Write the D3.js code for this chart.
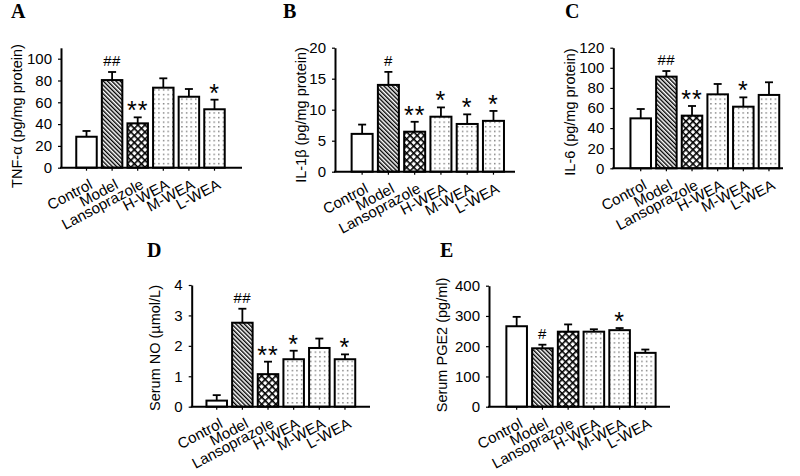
<!DOCTYPE html>
<html><head><meta charset="utf-8">
<script src="https://cdn.jsdelivr.net/npm/d3@7"></script>
<style>
html,body{margin:0;padding:0;background:#fff;}
svg{display:block;}
text{font-family:"Liberation Sans",Arial,sans-serif;fill:#000;}
</style></head>
<body>
<svg id="chart" width="800" height="476"></svg>
<script>
const categories = ["Control","Model","Lansoprazole","H-WEA","M-WEA","L-WEA"];
const fills = ["none","hatch","cross","dots","dots","dots"];

const tnfMean = [28.4, 80.4, 40.7, 73.4, 65.1, 53.6];
const tnfErr  = [5.3, 7.4, 5.5, 8.6, 7.1, 8.8];
const tnfSig  = ["", "##", "**", "", "", "*"];
const tnfTicks = [0,20,40,60,80,100];

const il1bMean = [6.1, 14.0, 6.45, 8.87, 7.7, 8.2];
const il1bErr  = [1.5, 2.1, 1.6, 1.5, 1.55, 1.6];
const il1bSig  = ["", "#", "**", "*", "*", "*"];
const il1bTicks = [0,5,10,15,20];

const il6Mean = [49.7, 91.2, 52.4, 73.6, 61.3, 73];
const il6Err  = [9.3, 5.6, 9.6, 10.3, 9.3, 12.6];
const il6Sig  = ["", "##", "**", "", "*", ""];
const il6Ticks = [0,20,40,60,80,100,120];

const noMean = [0.2, 2.76, 1.07, 1.56, 1.93, 1.56];
const noErr  = [0.18, 0.46, 0.41, 0.28, 0.31, 0.16];
const noSig  = ["", "##", "**", "*", "", "*"];
const noTicks = [0,1,2,3,4];

const pgeMean = [266, 193, 248, 248, 253, 178];
const pgeErr  = [31, 12, 24, 8, 7, 11];
const pgeSig  = ["", "#", "", "", "*", ""];
const pgeTicks = [0,100,200,300,400];

const svg = d3.select("#chart");
const defs = svg.append("defs");

const ph = defs.append("pattern").attr("id","hatch").attr("patternUnits","userSpaceOnUse")
  .attr("width",3).attr("height",3).attr("patternTransform","rotate(-45)");
ph.append("rect").attr("width",3).attr("height",3).attr("fill","#fff");
ph.append("rect").attr("x",0).attr("y",0).attr("width",1.4).attr("height",3).attr("fill","#000");

const pc = defs.append("pattern").attr("id","cross").attr("patternUnits","userSpaceOnUse")
  .attr("width",5).attr("height",5).attr("patternTransform","rotate(45)");
pc.append("rect").attr("width",5).attr("height",5).attr("fill","#fff");
pc.append("rect").attr("x",0).attr("y",0).attr("width",1.6).attr("height",5).attr("fill","#000");
pc.append("rect").attr("x",0).attr("y",0).attr("width",5).attr("height",1.6).attr("fill","#000");

const pd = defs.append("pattern").attr("id","dots").attr("patternUnits","userSpaceOnUse")
  .attr("width",4.6).attr("height",4.6);
pd.append("rect").attr("width",4.6).attr("height",4.6).attr("fill","#fff");
pd.append("rect").attr("x",2).attr("y",2).attr("width",1.2).attr("height",1.2).attr("fill","#444");

const panels = [
  {letter:"A", lx:11, ly:18, ax:61, y0:167.7, yTop:47.8, max:110, ticks:tnfTicks, r:[73.7,227.3], xEnd:242,
   mean:tnfMean, err:tnfErr, sig:tnfSig, title:"TNF-α (pg/mg protein)", tx:22, ty:116},
  {letter:"B", lx:283, ly:18, ax:335, y0:171.7, yTop:47.7, max:20, ticks:il1bTicks, r:[349,506.6], xEnd:515,
   mean:il1bMean, err:il1bErr, sig:il1bSig, title:"IL-1β (pg/mg protein)", tx:306, ty:115},
  {letter:"C", lx:565, ly:18, ax:613.3, y0:168.3, yTop:47.7, max:120, ticks:il6Ticks, r:[627.9,781.8], xEnd:783,
   mean:il6Mean, err:il6Err, sig:il6Sig, title:"IL-6 (pg/mg protein)", tx:575, ty:112},
  {letter:"D", lx:147, ly:257, ax:191.7, y0:406.7, yTop:285, max:4, ticks:noTicks, r:[203.9,357.8], xEnd:370,
   mean:noMean, err:noErr, sig:noSig, title:"Serum NO (µmol/L)", tx:160, ty:348},
  {letter:"E", lx:440, ly:257, ax:489, y0:406.7, yTop:285.7, max:400, ticks:pgeTicks, r:[503.8,658.2], xEnd:670,
   mean:pgeMean, err:pgeErr, sig:pgeSig, title:"Serum PGE2 (pg/ml)", tx:447, ty:345}
];

panels.forEach(p => {
  const g = svg.append("g");
  const y = d3.scaleLinear().domain([0, p.max]).range([p.y0, p.yTop]);
  const x = d3.scaleBand().domain(categories).range(p.r).paddingInner(0.2).paddingOuter(0.1);

  g.append("text").attr("x", p.lx).attr("y", p.ly).text(p.letter)
    .style("font-family","'Liberation Serif','Times New Roman',serif").style("font-weight","bold").style("font-size","20px");

  g.append("text").attr("transform", `translate(${p.tx},${p.ty}) rotate(-90)`)
    .attr("text-anchor","middle").style("font-size","14.5px").text(p.title);

  const data = categories.map((c,i) => ({c, m:p.mean[i], e:p.err[i], s:p.sig[i], f:fills[i]}));
  g.selectAll("rect.bar").data(data).enter().append("rect").attr("class","bar")
    .attr("x", d => x(d.c)).attr("width", x.bandwidth())
    .attr("y", d => y(d.m)).attr("height", d => p.y0 - y(d.m))
    .attr("fill", d => d.f === "none" ? "#fff" : `url(#${d.f})`)
    .attr("stroke","#000").attr("stroke-width",2);

  const eb = g.selectAll("g.eb").data(data).enter().append("g").attr("class","eb");
  eb.append("line").attr("x1", d => x(d.c)+x.bandwidth()/2).attr("x2", d => x(d.c)+x.bandwidth()/2)
    .attr("y1", d => y(d.m)).attr("y2", d => y(d.m+d.e)).attr("stroke","#000").attr("stroke-width",1.8);
  eb.append("line").attr("x1", d => x(d.c)+x.bandwidth()/2-4).attr("x2", d => x(d.c)+x.bandwidth()/2+4)
    .attr("y1", d => y(d.m+d.e)).attr("y2", d => y(d.m+d.e)).attr("stroke","#000").attr("stroke-width",1.8);

  g.selectAll("text.sig").data(data.filter(d => d.s)).enter().append("text").attr("class","sig")
    .attr("x", d => x(d.c)+x.bandwidth()/2)
    .attr("y", d => d.s.startsWith("#") ? y(d.m+d.e)-6 : y(d.m+d.e)+2)
    .attr("text-anchor","middle")
    .style("font-size", d => d.s.startsWith("#") ? "15px" : "25px")
    .style("letter-spacing", d => d.s.startsWith("#") ? "0.5px" : "1px")
    .text(d => d.s);

  const ya = g.append("g").attr("transform", `translate(${p.ax},0)`)
    .call(d3.axisLeft(y).tickValues(p.ticks).tickFormat(d3.format("d")).tickSize(3).tickSizeOuter(0).tickPadding(6));
  ya.select(".domain").attr("stroke-width",2);
  ya.selectAll(".tick line").attr("stroke-width",1.2);
  ya.selectAll(".tick text").style("font-size","15px").style("font-family","'Liberation Sans',Arial,sans-serif");

  const xa = g.append("g").attr("transform", `translate(0,${p.y0})`)
    .call(d3.axisBottom(x).tickSize(3).tickSizeOuter(0));
  xa.select(".domain").remove();
  xa.append("line").attr("x1", p.ax - 1).attr("x2", p.xEnd).attr("y1",0).attr("y2",0)
    .attr("stroke","#000").attr("stroke-width",2);
  xa.selectAll(".tick line").attr("stroke-width",1.2);
  xa.selectAll(".tick text").attr("text-anchor","end")
    .attr("transform","translate(7,20) rotate(-28)").attr("y",0).attr("dy","0")
    .style("font-size","15px").style("font-family","'Liberation Sans',Arial,sans-serif");
});
</script>
</body></html>
